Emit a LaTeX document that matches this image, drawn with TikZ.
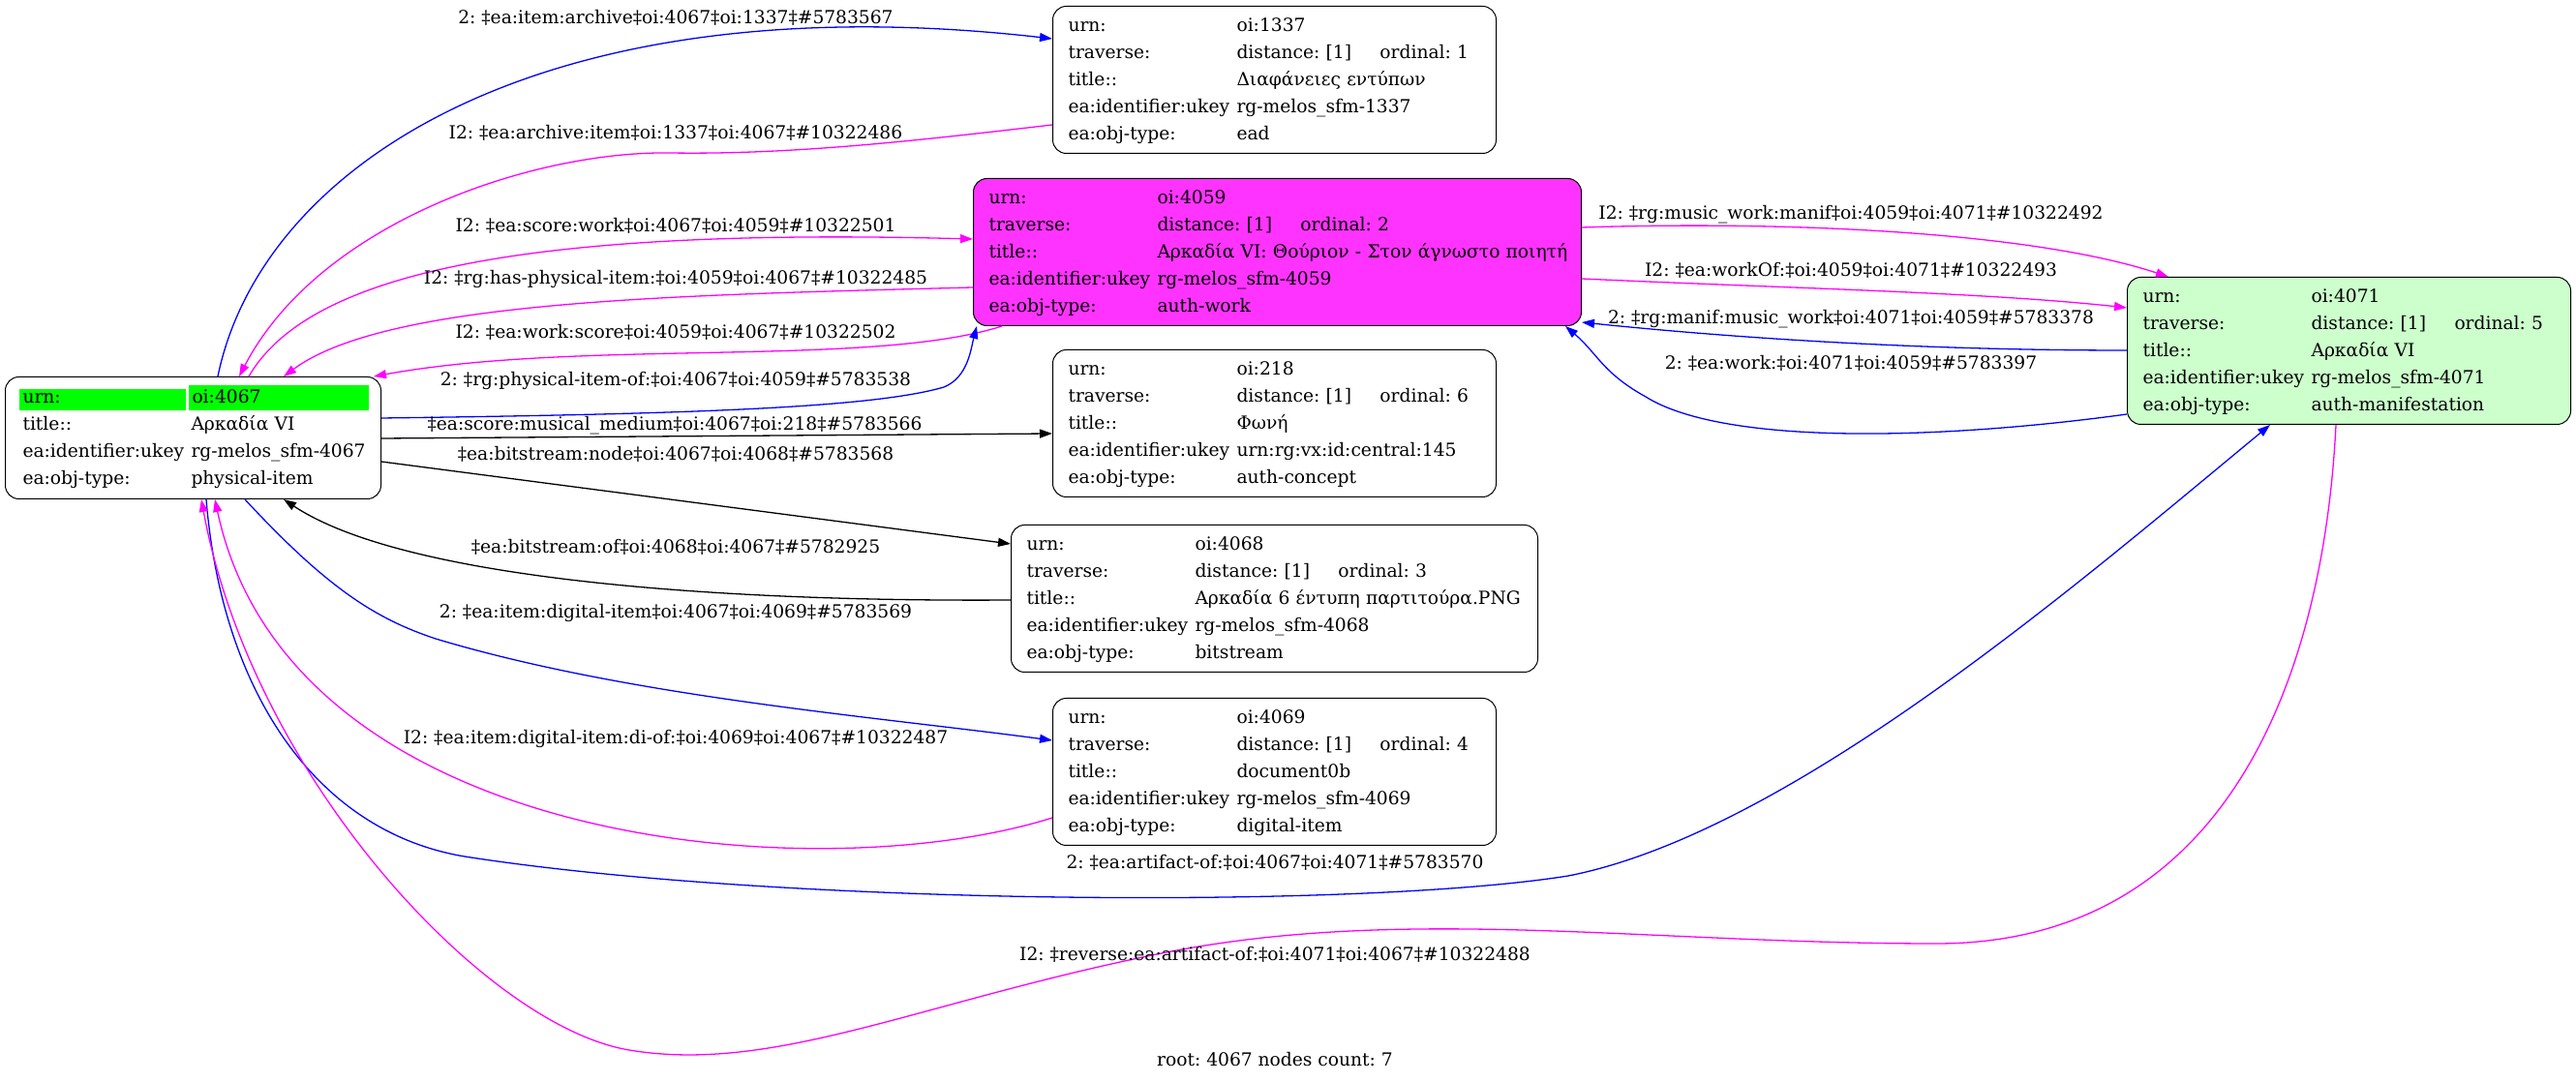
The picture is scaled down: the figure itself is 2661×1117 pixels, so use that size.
\documentclass[tikz,border=0pt]{standalone}
\usepackage{fontspec}
\setmainfont{DejaVu Serif}
\usetikzlibrary{arrows.meta}
\frenchspacing

\definecolor{workpink}{HTML}{FF33FF}
\definecolor{manifgreen}{HTML}{CCFFCC}
\definecolor{urngreen}{HTML}{00FF00}
\definecolor{edgepink}{RGB}{255,0,255}
\definecolor{edgeblue}{RGB}{0,0,255}

\newcommand{\cellfont}{\fontsize{18.67pt}{28pt}\selectfont}
\newcommand{\fld}[2]{\strut\makebox[174pt][l]{#1}\mbox{#2}}
\newcommand{\trav}[1]{\makebox[148pt][l]{distance: [1]}ordinal: #1}
\newcommand{\urncell}[2]{\colorbox{urngreen}{\rule[-4pt]{0pt}{13pt}\makebox[#1][l]{#2}}}
\setlength{\fboxsep}{4pt}

\begin{document}
\begin{tikzpicture}[x=1pt,y=1pt]

\tikzstyle{rec} = [draw, rounded corners=14pt, line width=1pt, anchor=north west, align=left, inner xsep=16pt, inner ysep=6pt, font=\cellfont]
\tikzstyle{line} = [draw, line width=1.3pt, -{Stealth[length=13pt,width=9pt,inset=0pt]}]
\tikzstyle{blueline} = [line, draw=edgeblue]
\tikzstyle{pinkline} = [line, draw=edgepink]
\tikzstyle{blackline} = [line, draw=black]
\tikzstyle{lbl} = [font=\fontsize{18.67pt}{22pt}\selectfont, text=black, inner sep=0pt]

\path[use as bounding box, fill=white] (0,0) rectangle (2661,1117);

%nodes
\node [rec, text width=352pt, inner xsep=18pt, inner ysep=7pt] (item) at (5,728) {\strut\mbox{\hspace{-4pt}\urncell{164pt}{urn:}\hspace{3pt}\urncell{178pt}{oi:4067}}\\
\fld{title::}{Αρκαδία VI}\\
\fld{ea:identifier:ukey}{rg-melos\_sfm-4067}\\
\fld{ea:obj-type:}{physical-item}};

\node [rec, text width=426pt] (archive) at (1087,1111) {\fld{urn:}{oi:1337}\\
\fld{traverse:}{\trav{1}}\\
\fld{title::}{Διαφάνειες εντύπων}\\
\fld{ea:identifier:ukey}{rg-melos\_sfm-1337}\\
\fld{ea:obj-type:}{ead}};

\node [rec, fill=workpink, text width=596pt] (work) at (1005,933) {\fld{urn:}{oi:4059}\\
\fld{traverse:}{\trav{2}}\\
\fld{title::}{Αρκαδία VI: Θούριον - Στον άγνωστο ποιητή}\\
\fld{ea:identifier:ukey}{rg-melos\_sfm-4059}\\
\fld{ea:obj-type:}{auth-work}};

\node [rec, fill=manifgreen, text width=426pt] (manif) at (2197,831) {\fld{urn:}{oi:4071}\\
\fld{traverse:}{\trav{5}}\\
\fld{title::}{Αρκαδία VI}\\
\fld{ea:identifier:ukey}{rg-melos\_sfm-4071}\\
\fld{ea:obj-type:}{auth-manifestation}};

\node [rec, text width=426pt] (concept) at (1087,756) {\fld{urn:}{oi:218}\\
\fld{traverse:}{\trav{6}}\\
\fld{title::}{Φωνή}\\
\fld{ea:identifier:ukey}{urn:rg:vx:id:central:145}\\
\fld{ea:obj-type:}{auth-concept}};

\node [rec, text width=512pt] (bitstream) at (1044,575) {\fld{urn:}{oi:4068}\\
\fld{traverse:}{\trav{3}}\\
\fld{title::}{Αρκαδία 6 έντυπη παρτιτούρα.PNG}\\
\fld{ea:identifier:ukey}{rg-melos\_sfm-4068}\\
\fld{ea:obj-type:}{bitstream}};

\node [rec, text width=426pt] (digital) at (1087,396) {\fld{urn:}{oi:4069}\\
\fld{traverse:}{\trav{4}}\\
\fld{title::}{document0b}\\
\fld{ea:identifier:ukey}{rg-melos\_sfm-4069}\\
\fld{ea:obj-type:}{digital-item}};

\node [lbl] (rootlbl) at (1317,22) {root: 4067 nodes count: 7};

%arrows
\draw [blueline] ([xshift=220pt]item.north west) .. controls (270,947) and (560,1137) .. ([yshift=-34pt]archive.north west)
  node [lbl] (archivelbl) at (698,1099) {2: ‡ea:item:archive‡oi:4067‡oi:1337‡\#5783567};
\draw [pinkline] ([yshift=-123pt]archive.north west) .. controls (950,972) and (820,957) .. (692,959) .. controls (550,961) and (330,887) .. ([xshift=242pt]item.north west)
  node [lbl] (itemlbl) at (698,980) {I2: ‡ea:archive:item‡oi:1337‡oi:4067‡\#10322486};
\draw [pinkline] ([xshift=252pt]item.north west) .. controls (320,837) and (550,882) .. ([yshift=-63pt]work.north west)
  node [lbl] (scorelbl) at (698,884) {I2: ‡ea:score:work‡oi:4067‡oi:4059‡\#10322501};
\draw [pinkline] ([yshift=-113pt]work.north west) .. controls (700,812) and (400,807) .. ([xshift=288pt]item.north west)
  node [lbl] (haslbl) at (698,829) {I2: ‡rg:has-physical-item:‡oi:4059‡oi:4067‡\#10322485};
\draw [pinkline] ([xshift=30pt]work.south west) .. controls (900,737) and (600,767) .. ([xshift=-8pt]item.north east)
  node [lbl] (worklbl) at (698,774) {I2: ‡ea:work:score‡oi:4059‡oi:4067‡\#10322502};
\draw [blueline] ([yshift=-43pt]item.north east) .. controls (700,689) and (900,695) .. (975,717) .. controls (1000,727) and (1003,757) .. ([xshift=4pt]work.south west)
  node [lbl] (physlbl) at (698,724) {2: ‡rg:physical-item-of:‡oi:4067‡oi:4059‡\#5783538};
\draw [blackline] ([yshift=-64pt]item.north east) -- ([yshift=-87pt]concept.north west)
  node [lbl] (mediumlbl) at (697,677) {‡ea:score:musical\_medium‡oi:4067‡oi:218‡\#5783566};
\draw [blackline] ([yshift=-88pt]item.north east) -- ([yshift=-20pt]bitstream.north west)
  node [lbl] (nodelbl) at (698,648) {‡ea:bitstream:node‡oi:4067‡oi:4068‡\#5783568};
\draw [blackline] ([yshift=-78pt]bitstream.north west) .. controls (750,495) and (420,517) .. ([xshift=288pt]item.south west)
  node [lbl] (oflbl) at (698,552) {‡ea:bitstream:of‡oi:4068‡oi:4067‡\#5782925};
\draw [blueline] ([xshift=248pt]item.south west) .. controls (340,507) and (390,477) .. (450,457) .. controls (650,397) and (900,377) .. ([yshift=-44pt]digital.north west)
  node [lbl] (digitallbl) at (698,484) {2: ‡ea:item:digital-item‡oi:4067‡oi:4069‡\#5783569};
\draw [pinkline] ([yshift=-124pt]digital.north west) .. controls (850,197) and (300,237) .. ([xshift=217pt]item.south west)
  node [lbl] (diflbl) at (698,354) {I2: ‡ea:item:digital-item:di-of:‡oi:4069‡oi:4067‡\#10322487};
\draw [blueline] ([xshift=208pt]item.south west) .. controls (230,397) and (330,257) .. (480,232) .. controls (800,182) and (1400,177) .. (1620,212) .. controls (1850,257) and (2150,517) .. ([xshift=148pt]manif.south west)
  node [lbl] (artifactlbl) at (1317,226) {2: ‡ea:artifact-of:‡oi:4067‡oi:4071‡\#5783570};
\draw [pinkline] ([xshift=216pt]manif.south west) .. controls (2400,417) and (2300,142) .. (2000,142) .. controls (1700,142) and (1450,182) .. (1200,132) .. controls (950,82) and (800,7) .. (650,32) .. controls (500,57) and (260,317) .. ([xshift=203pt]item.south west)
  node [lbl] (reverselbl) at (1317,131) {I2: ‡reverse:ea:artifact-of:‡oi:4071‡oi:4067‡\#10322488};
\draw [pinkline] ([yshift=-51pt]work.north east) .. controls (1850,889) and (2100,877) .. ([xshift=43pt]manif.north west)
  node [lbl] (manifestlbl) at (1912,895) {I2: ‡rg:music\_work:manif‡oi:4059‡oi:4071‡\#10322492};
\draw [pinkline] ([yshift=-104pt]work.north east) .. controls (1850,819) and (2050,815) .. ([yshift=-32pt]manif.north west)
  node [lbl] (workoflbl) at (1912,838) {I2: ‡ea:workOf:‡oi:4059‡oi:4071‡\#10322493};
\draw [blueline] ([yshift=-76pt]manif.north west) .. controls (1950,755) and (1750,772) .. ([yshift=4pt]work.south east)
  node [lbl] (musiclbl) at (1912,787) {2: ‡rg:manif:music\_work‡oi:4071‡oi:4059‡\#5783378};
\draw [blueline] ([yshift=11pt]manif.south west) .. controls (2000,662) and (1780,657) .. (1700,707) .. controls (1655,732) and (1650,752) .. ([xshift=-17pt]work.south east)
  node [lbl] (eaworklbl) at (1912,742) {2: ‡ea:work:‡oi:4071‡oi:4059‡\#5783397};
\end{tikzpicture}
\end{document}
